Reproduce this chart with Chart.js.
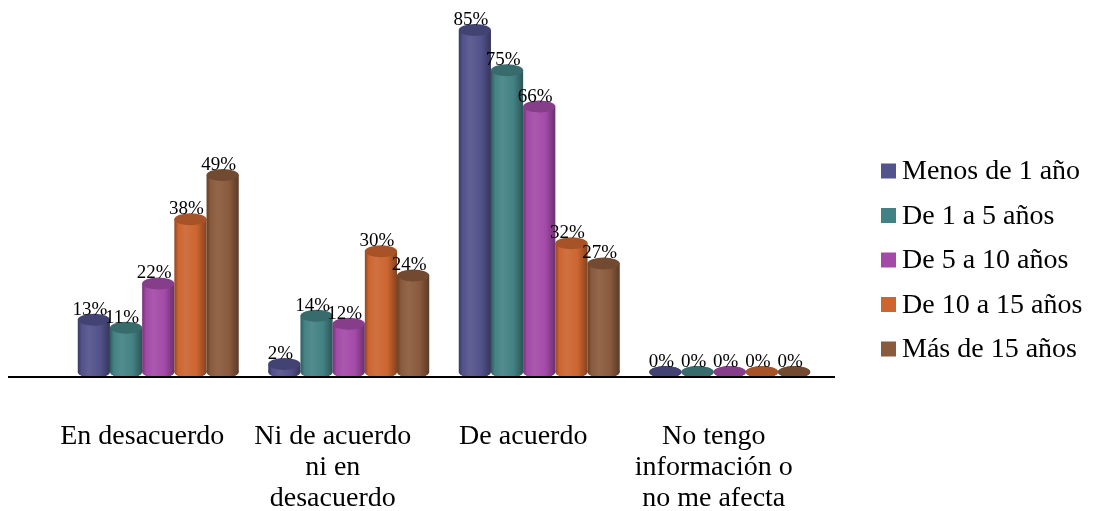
<!DOCTYPE html>
<html>
<head>
<meta charset="utf-8">
<script src="https://cdn.jsdelivr.net/npm/chart.js@4.4.0/dist/chart.umd.min.js"></script>
<style>
  html, body { margin: 0; padding: 0; background: #fff; }
  #wrap { width: 1094px; height: 511px; }
</style>
</head>
<body>
<div id="wrap"><canvas id="grafico" width="1094" height="511"></canvas></div>
<script>
// Categorías del eje X (multilínea)
const categorias = [
  ['En desacuerdo'],
  ['Ni de acuerdo', 'ni en', 'desacuerdo'],
  ['De acuerdo'],
  ['No tengo', 'información o', 'no me afecta']
];

// Antigüedad (series)
const series = ['Menos de 1 año', 'De 1 a 5 años', 'De 5 a 10 años', 'De 10 a 15 años', 'Más de 15 años'];

// Porcentajes por serie
const menosDe1 = [13, 2, 85, 0];
const de1a5 = [11, 14, 75, 0];
const de5a10 = [22, 12, 66, 0];
const de10a15 = [38, 30, 32, 0];
const masDe15 = [49, 24, 27, 0];

const colores = ['#52528c', '#438284', '#a34aa8', '#cc6530', '#8a5a3c'];

const FUENTE = '"Liberation Serif", "Times New Roman", serif';

// aclara (f > 0) u oscurece (f < 0) un color hex
function tono(hex, f) {
  const n = parseInt(hex.slice(1), 16);
  const m = c => Math.round(f < 0 ? c * (1 + f) : c + (255 - c) * f);
  return `rgb(${m(n >> 16)},${m((n >> 8) & 255)},${m(n & 255)})`;
}

// Dibuja cada barra como cilindro, la línea base y las etiquetas de valor
const cilindros = {
  id: 'cilindros',
  afterDatasetsDraw(chart) {
    const ctx = chart.ctx;
    const area = chart.chartArea;
    ctx.save();
    chart.data.datasets.forEach((ds, i) => {
      const color = colores[i];
      chart.getDatasetMeta(i).data.forEach(bar => {
        const { x, y, base, width } = bar.getProps(['x', 'y', 'base', 'width'], true);
        const rx = width / 2, ry = 6;
        const g = ctx.createLinearGradient(x - rx, 0, x + rx, 0);
        g.addColorStop(0, tono(color, -0.3));
        g.addColorStop(0.12, color);
        g.addColorStop(0.35, tono(color, 0.08));
        g.addColorStop(0.7, color);
        g.addColorStop(1, tono(color, -0.35));
        ctx.fillStyle = g;
        ctx.beginPath();
        ctx.ellipse(x, base, rx, ry, 0, 0, Math.PI * 2);
        ctx.fill();
        ctx.fillRect(x - rx, y, width, base - y);
        ctx.fillStyle = tono(color, -0.18);
        ctx.beginPath();
        ctx.ellipse(x, y, rx, ry, 0, 0, Math.PI * 2);
        ctx.fill();
      });
    });

    // línea base
    ctx.strokeStyle = '#000';
    ctx.lineWidth = 2;
    ctx.beginPath();
    ctx.moveTo(area.left - 55, area.bottom + 5);
    ctx.lineTo(area.right + 10, area.bottom + 5);
    ctx.stroke();

    // etiquetas de porcentaje
    ctx.fillStyle = '#000';
    ctx.font = '19px ' + FUENTE;
    ctx.textAlign = 'center';
    ctx.textBaseline = 'middle';
    chart.data.datasets.forEach((ds, i) => {
      chart.getDatasetMeta(i).data.forEach((bar, j) => {
        const { x, y } = bar.getProps(['x', 'y'], true);
        ctx.fillText(ds.data[j] + '%', x - 4, y - 10);
      });
    });
    ctx.restore();
  }
};

// Leyenda a la derecha
const leyenda = {
  id: 'leyenda',
  afterDraw(chart) {
    const ctx = chart.ctx;
    const x0 = chart.chartArea.right + 56;
    const paso = 44.5;
    const y0 = chart.height / 2 + 4.5 - paso * 2;
    ctx.save();
    ctx.font = '28px ' + FUENTE;
    ctx.textBaseline = 'middle';
    ctx.textAlign = 'left';
    series.forEach((s, i) => {
      const yc = y0 + i * paso;
      ctx.fillStyle = colores[i];
      ctx.fillRect(x0, yc - 7.5, 15, 15);
      ctx.fillStyle = '#000';
      ctx.fillText(s, x0 + 21, yc + 1);
    });
    ctx.restore();
  }
};

const valores = [menosDe1, de1a5, de5a10, de10a15, masDe15];

new Chart(document.getElementById('grafico'), {
  type: 'bar',
  data: {
    labels: categorias,
    datasets: series.map((s, i) => ({
      label: s,
      data: valores[i],
      backgroundColor: 'rgba(0,0,0,0)',
      borderWidth: 0
    }))
  },
  options: {
    responsive: false,
    animation: false,
    events: [],
    categoryPercentage: 0.845,
    barPercentage: 1,
    layout: { padding: { left: 63, right: 269, top: 10, bottom: 0 } },
    scales: {
      x: {
        grid: { display: false, drawTicks: false },
        border: { display: false },
        afterFit: s => { s.height = 139; },
        ticks: {
          color: '#000',
          padding: 49,
          labelOffset: -16,
          maxRotation: 0,
          autoSkip: false,
          font: { family: FUENTE, size: 28, lineHeight: 1.107 }
        }
      },
      y: {
        display: false,
        min: 0,
        max: 90
      }
    },
    plugins: {
      legend: { display: false },
      tooltip: { enabled: false }
    }
  },
  plugins: [cilindros, leyenda]
});
</script>
</body>
</html>
